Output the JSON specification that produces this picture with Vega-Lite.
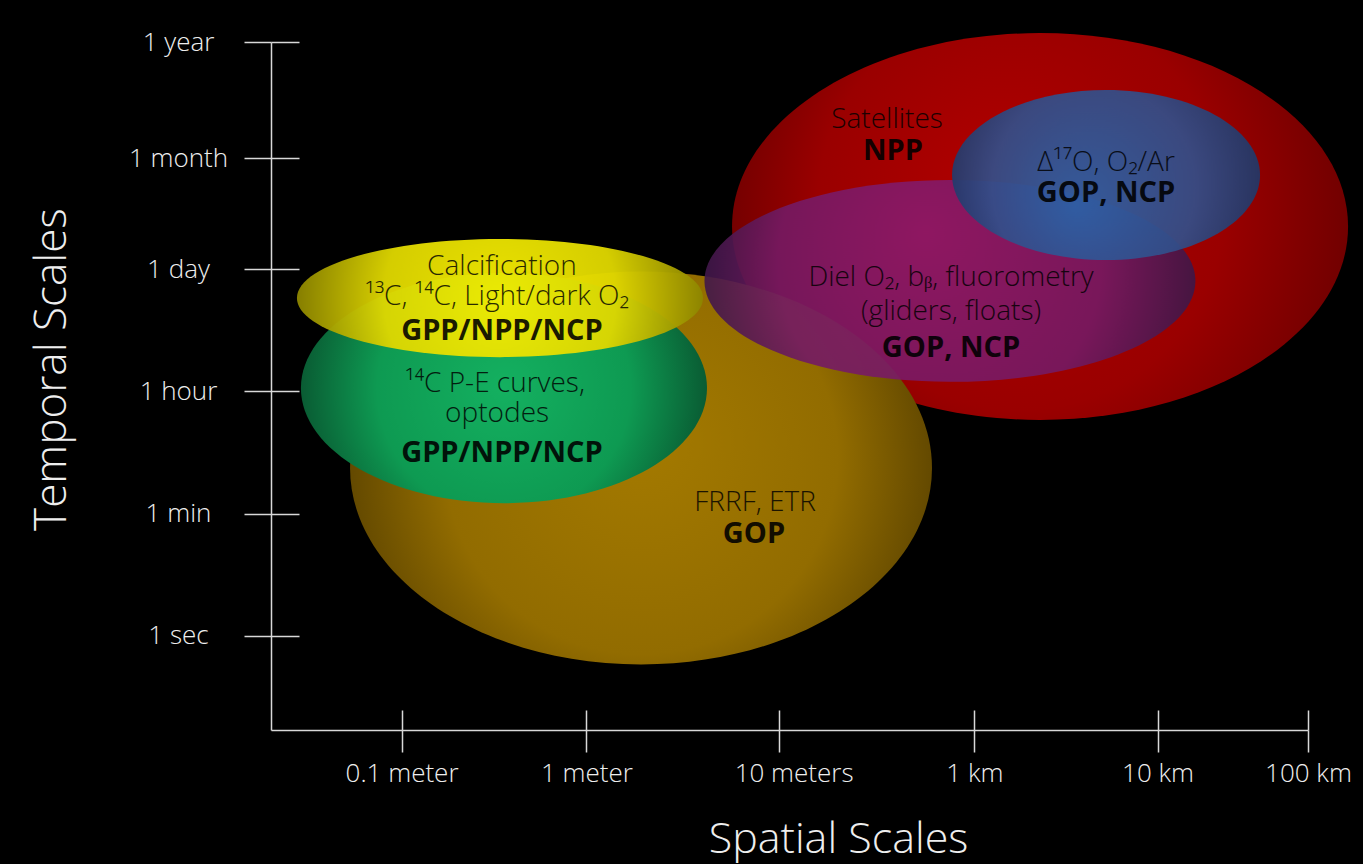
{
  "$schema": "https://vega.github.io/schema/vega-lite/v6.json",
  "width": 1037,
  "height": 688,
  "autosize": {"type": "none"},
  "padding": {"left": 271, "top": 42, "right": 55, "bottom": 134},
  "background": "#000000",
  "config": {"view": {"stroke": null}},
  "datasets": {
    "ellipses": [
      {"name": "Satellites", "cx": 4.522, "cy": 4.391, "w": 3.398, "h": 3.375},
      {"name": "FRRF", "cx": 2.321, "cy": 2.285, "w": 3.21, "h": 3.427},
      {"name": "Diel", "cx": 4.025, "cy": 3.916, "w": 2.708, "h": 1.762},
      {"name": "D17O", "cx": 4.886, "cy": 4.84, "w": 1.699, "h": 1.483},
      {"name": "14C", "cx": 1.565, "cy": 2.982, "w": 2.24, "h": 2.006},
      {"name": "Calcification", "cx": 1.543, "cy": 3.767, "w": 2.24, "h": 1.029}
    ],
    "labels": [
      {"lx": 1.554, "ly": 3.968, "text": "Calcification", "kind": "method"},
      {"lx": 1.527, "ly": 3.706, "text": "¹³C, ¹⁴C, Light/dark O₂", "kind": "method"},
      {"lx": 1.554, "ly": 3.401, "text": "GPP/NPP/NCP", "kind": "metric"},
      {"lx": 1.516, "ly": 2.948, "text": "¹⁴C P-E curves,", "kind": "method"},
      {"lx": 1.527, "ly": 2.686, "text": "optodes", "kind": "method"},
      {"lx": 1.554, "ly": 2.337, "text": "GPP/NPP/NCP", "kind": "metric"},
      {"lx": 2.95, "ly": 1.91, "text": "FRRF, ETR", "kind": "method"},
      {"lx": 2.944, "ly": 1.631, "text": "GOP", "kind": "metric"},
      {"lx": 3.678, "ly": 5.25, "text": "Satellites", "kind": "method"},
      {"lx": 3.711, "ly": 4.971, "text": "NPP", "kind": "metric"},
      {"lx": 4.886, "ly": 4.875, "text": "Δ¹⁷O, O₂/Ar", "kind": "method"},
      {"lx": 4.886, "ly": 4.605, "text": "GOP, NCP", "kind": "metric"},
      {"lx": 4.031, "ly": 3.872, "text": "Diel O₂, bᵦ, fluorometry", "kind": "method"},
      {"lx": 4.031, "ly": 3.575, "text": "(gliders, floats)", "kind": "method"},
      {"lx": 4.031, "ly": 3.253, "text": "GOP, NCP", "kind": "metric"}
    ]
  },
  "resolve": {"axis": {"x": "independent", "y": "independent"}},
  "layer": [
    {
      "data": {"name": "ellipses"},
      "transform": [{"filter": "datum.name === 'Satellites'"}],
      "mark": {"type": "point", "filled": true, "opacity": 1, "strokeWidth": 0,
        "shape": "M -1 0 A 1 0.628 0 1 0 1 0 A 1 0.628 0 1 0 -1 0 Z",
        "fill": {"gradient": "radial", "x1": 0.42, "y1": 0.42, "r1": 0, "x2": 0.5, "y2": 0.5, "r2": 0.55,
          "stops": [{"offset": 0, "color": "#b00000"}, {"offset": 0.6, "color": "#9a0000"}, {"offset": 1, "color": "#680000"}]}},
      "encoding": {
        "x": {"field": "cx", "type": "quantitative", "scale": {"domain": [0.28, 6], "nice": false, "zero": false},
          "axis": {"orient": "bottom", "values": [1, 2.02, 3.08, 4.16, 5.17, 6],
            "labelExpr": "datum.value < 1.5 ? '0.1 meter' : datum.value < 2.5 ? '1 meter' : datum.value < 3.5 ? '10 meters' : datum.value < 4.5 ? '1 km' : datum.value < 5.5 ? '10 km' : '100 km'",
            "grid": false, "domainColor": "#d8d8d8", "domainWidth": 1.5, "tickColor": "#d8d8d8", "tickWidth": 1.5, "tickSize": 22,
            "labelColor": "#eeeeee", "labelFont": "Open Sans", "labelFontWeight": 300, "labelFontSize": 26,
            "labelAlign": "center", "labelBaseline": "alphabetic", "labelPadding": 29, "labelFlush": false, "labelOverlap": false,
            "labelOffset": {"condition": {"test": "datum.value > 3 && datum.value < 3.2", "value": 15}, "value": 0},
            "title": "Spatial Scales", "titleColor": "#eeeeee", "titleFont": "Open Sans", "titleFontWeight": 300, "titleFontSize": 43,
            "titleX": 567, "titleY": 122, "titleAlign": "center", "titleBaseline": "alphabetic"}},
        "y": {"field": "cy", "type": "quantitative", "scale": {"domain": [0, 6], "nice": false, "zero": false},
          "axis": {"orient": "left", "values": [0.82, 1.884, 2.956, 4.02, 4.988, 6],
            "labelExpr": "datum.value < 1.3 ? '1 sec' : datum.value < 2.4 ? '1 min' : datum.value < 3.5 ? '1 hour' : datum.value < 4.5 ? '1 day' : datum.value < 5.5 ? '1 month' : '1 year'",
            "grid": false, "domainColor": "#d8d8d8", "domainWidth": 1.5, "tickColor": "#d8d8d8", "tickWidth": 1.5, "tickSize": 27,
            "labelColor": "#eeeeee", "labelFont": "Open Sans", "labelFontWeight": 300, "labelFontSize": 26,
            "labelAlign": "center", "labelBaseline": "middle", "labelPadding": 66, "labelFlush": false, "labelOverlap": false,
            "title": "Temporal Scales", "titleColor": "#eeeeee", "titleFont": "Open Sans", "titleFontWeight": 300, "titleFontSize": 44,
            "titleAngle": -90, "titleX": -219, "titleY": 327, "titleAlign": "center", "titleBaseline": "middle"}},
        "size": {"field": "w", "type": "quantitative", "scale": {"type": "pow", "exponent": 2, "domain": [0, 4], "range": [0, 525857]}, "legend": null}
      }
    },
    {
      "data": {"name": "ellipses"},
      "transform": [{"filter": "datum.name === 'FRRF'"}],
      "mark": {"type": "point", "filled": true, "opacity": 1, "strokeWidth": 0,
        "shape": "M -1 0 A 1 0.675 0 1 0 1 0 A 1 0.675 0 1 0 -1 0 Z",
        "fill": {"gradient": "radial", "x1": 0.5, "y1": 0.45, "r1": 0, "x2": 0.5, "y2": 0.5, "r2": 0.52,
          "stops": [{"offset": 0, "color": "#a47a00"}, {"offset": 0.65, "color": "#926c00"}, {"offset": 1, "color": "#5e4500"}]}},
      "encoding": {
        "x": {"field": "cx", "type": "quantitative",
          "axis": {"orient": "bottom", "values": [1, 2.02, 3.08, 4.16, 5.17, 6], "labels": false, "domain": false, "grid": false, "title": null,
            "tickColor": "#d8d8d8", "tickWidth": 1.5, "tickSize": -20}},
        "y": {"field": "cy", "type": "quantitative",
          "axis": {"orient": "left", "values": [0.82, 1.884, 2.956, 4.02, 4.988, 6], "labels": false, "domain": false, "grid": false, "title": null,
            "tickColor": "#d8d8d8", "tickWidth": 1.5, "tickSize": -28}},
        "size": {"field": "w", "type": "quantitative", "legend": null}
      }
    },
    {
      "data": {"name": "ellipses"},
      "transform": [{"filter": "datum.name === 'Diel'"}],
      "mark": {"type": "point", "filled": true, "opacity": 0.9, "strokeWidth": 0,
        "shape": "M -1 0 A 1 0.411 0 1 0 1 0 A 1 0.411 0 1 0 -1 0 Z",
        "fill": {"gradient": "radial", "x1": 0.45, "y1": 0.4, "r1": 0, "x2": 0.5, "y2": 0.5, "r2": 0.55,
          "stops": [{"offset": 0, "color": "#8c1a6c"}, {"offset": 0.6, "color": "#741a64"}, {"offset": 1, "color": "#2e1640"}]}},
      "encoding": {
        "x": {"field": "cx", "type": "quantitative", "axis": null},
        "y": {"field": "cy", "type": "quantitative", "axis": null},
        "size": {"field": "w", "type": "quantitative", "legend": null}
      }
    },
    {
      "data": {"name": "ellipses"},
      "transform": [{"filter": "datum.name === 'D17O'"}],
      "mark": {"type": "point", "filled": true, "opacity": 0.92, "strokeWidth": 0,
        "shape": "M -1 0 A 1 0.552 0 1 0 1 0 A 1 0.552 0 1 0 -1 0 Z",
        "fill": {"gradient": "radial", "x1": 0.4, "y1": 0.6, "r1": 0, "x2": 0.5, "y2": 0.5, "r2": 0.55,
          "stops": [{"offset": 0, "color": "#2a62a8"}, {"offset": 0.6, "color": "#324f8a"}, {"offset": 1, "color": "#1c3360"}]}},
      "encoding": {
        "x": {"field": "cx", "type": "quantitative", "axis": null},
        "y": {"field": "cy", "type": "quantitative", "axis": null},
        "size": {"field": "w", "type": "quantitative", "legend": null}
      }
    },
    {
      "data": {"name": "ellipses"},
      "transform": [{"filter": "datum.name === '14C'"}],
      "mark": {"type": "point", "filled": true, "opacity": 1, "strokeWidth": 0,
        "shape": "M -1 0 A 1 0.567 0 1 0 1 0 A 1 0.567 0 1 0 -1 0 Z",
        "fill": {"gradient": "radial", "x1": 0.5, "y1": 0.5, "r1": 0, "x2": 0.5, "y2": 0.5, "r2": 0.52,
          "stops": [{"offset": 0, "color": "#14b060"}, {"offset": 0.6, "color": "#0e9a52"}, {"offset": 1, "color": "#095530"}]}},
      "encoding": {
        "x": {"field": "cx", "type": "quantitative", "axis": null},
        "y": {"field": "cy", "type": "quantitative", "axis": null},
        "size": {"field": "w", "type": "quantitative", "legend": null}
      }
    },
    {
      "data": {"name": "ellipses"},
      "transform": [{"filter": "datum.name === 'Calcification'"}],
      "mark": {"type": "point", "filled": true, "opacity": 0.95, "strokeWidth": 0,
        "shape": "M -1 0 A 1 0.291 0 1 0 1 0 A 1 0.291 0 1 0 -1 0 Z",
        "fill": {"gradient": "radial", "x1": 0.5, "y1": 0.5, "r1": 0, "x2": 0.5, "y2": 0.5, "r2": 0.52,
          "stops": [{"offset": 0, "color": "#f6ee00"}, {"offset": 0.55, "color": "#e0d800"}, {"offset": 1, "color": "#857d00"}]}},
      "encoding": {
        "x": {"field": "cx", "type": "quantitative", "axis": null},
        "y": {"field": "cy", "type": "quantitative", "axis": null},
        "size": {"field": "w", "type": "quantitative", "legend": null}
      }
    },
    {
      "data": {"name": "labels"},
      "transform": [{"filter": "datum.kind === 'method'"}],
      "mark": {"type": "text", "align": "center", "baseline": "alphabetic", "font": "Open Sans", "fontWeight": 300, "fontSize": 28, "color": "#000000", "opacity": 0.82},
      "encoding": {
        "x": {"field": "lx", "type": "quantitative", "axis": null},
        "y": {"field": "ly", "type": "quantitative", "axis": null},
        "text": {"field": "text", "type": "nominal"}
      }
    },
    {
      "data": {"name": "labels"},
      "transform": [{"filter": "datum.kind === 'metric'"}],
      "mark": {"type": "text", "align": "center", "baseline": "alphabetic", "font": "Open Sans", "fontWeight": "bold", "fontSize": 29, "color": "#000000", "opacity": 0.88},
      "encoding": {
        "x": {"field": "lx", "type": "quantitative", "axis": null},
        "y": {"field": "ly", "type": "quantitative", "axis": null},
        "text": {"field": "text", "type": "nominal"}
      }
    }
  ]
}
